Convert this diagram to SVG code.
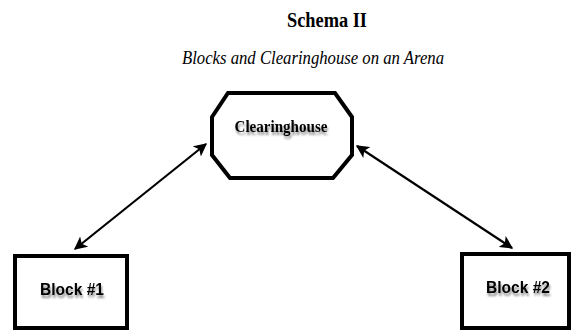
<svg xmlns="http://www.w3.org/2000/svg" width="572" height="331" viewBox="0 0 572 331">
<style>
.box{fill:#fff;stroke:#000;stroke-width:4}
.lbl{font-family:"Liberation Sans",sans-serif;font-weight:bold;font-size:17px;fill:#000;text-anchor:middle}
.edge{stroke:#000;stroke-width:2.2;fill:none;marker-start:url(#ah);marker-end:url(#ah)}
</style>
<defs>
<filter id="sh" x="-20%" y="-20%" width="140%" height="160%"><feGaussianBlur in="SourceAlpha" stdDeviation="1.2"/><feOffset dx="1" dy="3" result="b"/><feComponentTransfer><feFuncA type="linear" slope="0.45"/></feComponentTransfer><feMerge><feMergeNode/><feMergeNode in="SourceGraphic"/></feMerge></filter>
<marker id="ah" viewBox="0 0 10 10" refX="9" refY="5" markerWidth="6" markerHeight="6" orient="auto-start-reverse" markerUnits="strokeWidth"><path d="M0,0 L10,5 L0,10 L2.5,5 z" fill="#000"/></marker>
</defs>
<text x="327" y="27" font-family="Liberation Serif,serif" font-weight="bold" font-size="20" text-anchor="middle" textLength="80" lengthAdjust="spacingAndGlyphs">Schema II</text>
<text x="313" y="64" font-family="Liberation Serif,serif" font-style="italic" font-size="18" text-anchor="middle" textLength="262" lengthAdjust="spacingAndGlyphs">Blocks and Clearinghouse on an Arena</text>
<g id="connectors">
<line class="edge" x1="75" y1="249" x2="206" y2="144"/>
<line class="edge" x1="357" y1="146" x2="512" y2="248"/>
</g>
<g id="clearinghouse">
<polygon class="box" points="228,93 335,93 352,117 352,155 333,178 230,178 212,155 212,117"/>
<text x="281" y="132" font-family="Liberation Serif,serif" font-weight="bold" font-size="17" text-anchor="middle" textLength="93" lengthAdjust="spacingAndGlyphs" filter="url(#sh)">Clearinghouse</text>
</g>
<g id="block1">
<rect class="box" x="15" y="256" width="112" height="72"/>
<text class="lbl" x="72" y="295" textLength="64" lengthAdjust="spacingAndGlyphs" filter="url(#sh)">Block #1</text>
</g>
<g id="block2">
<rect class="box" x="462" y="254" width="107" height="74"/>
<text class="lbl" x="518" y="293" textLength="64" lengthAdjust="spacingAndGlyphs" filter="url(#sh)">Block #2</text>
</g>
</svg>
